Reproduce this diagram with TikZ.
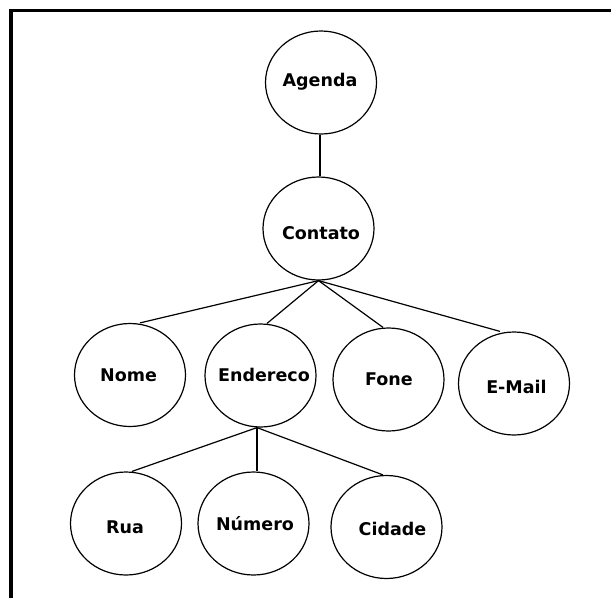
\documentclass[tikz,border=0pt]{standalone}
\usepackage{fontspec}
\setmainfont{DejaVu Sans}
\usetikzlibrary{shapes.geometric}
\begin{document}
\begin{tikzpicture}[x=1pt,y=-1pt,
  bubble/.style={draw=black,line width=1.2pt,ellipse,minimum width=111pt,minimum height=103pt,inner sep=0pt},
  lbl/.style={inner sep=0pt,font=\fontsize{17.5}{20}\selectfont\bfseries},
  edge/.style={draw=black,line width=1.2pt},
  frame/.style={draw=black,line width=3.5pt}]
\useasboundingbox (0,0) rectangle (611,598);
\fill[white] (0,0) rectangle (611,598);
% frame (top and left)
\coordinate (ftr) at (611,10.5);
\coordinate (ftl) at (11,10.5);
\coordinate (fbl) at (11,598);
\draw[frame] (ftr) -- (ftl) -- (fbl);
% nodes
\node[bubble] (agenda) at (321,82.5) {};
\node[lbl] (agendat) at (320,82) {Agenda};
\node[bubble] (contato) at (318.5,228.5) {};
\node[lbl] (contatot) at (321,233) {Contato};
\node[bubble] (nome) at (130,375) {};
\node[lbl] (nomet) at (128.5,375) {Nome};
\node[bubble] (endereco) at (260.5,375.5) {};
\node[lbl] (enderecot) at (264,375) {Endereco};
\node[bubble] (fone) at (388.5,379.5) {};
\node[lbl] (fonet) at (389,379) {Fone};
\node[bubble] (email) at (514,383.5) {};
\node[lbl] (emailt) at (516.5,387) {E-Mail};
\node[bubble] (rua) at (126,523.5) {};
\node[lbl] (ruat) at (125,527) {Rua};
\node[bubble] (numero) at (253.5,523.5) {};
\node[lbl] (numerot) at (255,524) {Número};
\node[bubble] (cidade) at (386.5,527) {};
\node[lbl] (cidadet) at (392.5,529) {Cidade};
% connectors
\draw[edge] ([xshift=-1pt]agenda.south) -- ([xshift=1.5pt]contato.north);
\draw[edge] (contato.south) -- ([xshift=10pt]nome.north);
\draw[edge] (contato.south) -- ([xshift=6.5pt]endereco.north);
\draw[edge] (contato.south) -- ([xshift=-5.5pt]fone.north);
\draw[edge] (contato.south) -- ([xshift=-14pt]email.north);
\draw[edge] ([xshift=-3.5pt]endereco.south) -- ([xshift=6pt]rua.north);
\draw[edge] ([xshift=-3.5pt]endereco.south) -- ([xshift=3.5pt]numero.north);
\draw[edge] ([xshift=-3.5pt]endereco.south) -- ([xshift=-3.5pt]cidade.north);
\end{tikzpicture}
\end{document}
